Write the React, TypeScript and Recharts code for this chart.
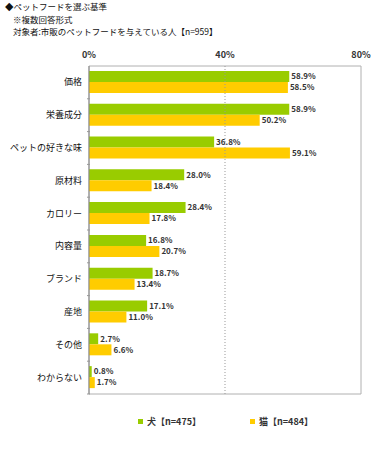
import { BarChart, Bar, XAxis, YAxis, LabelList, ReferenceLine, ReferenceArea } from 'recharts';

const categories = ['価格', '栄養成分', 'ペットの好きな味', '原材料', 'カロリー', '内容量', 'ブランド', '産地', 'その他', 'わからない'];
const dogValues = [58.9, 58.9, 36.8, 28.0, 28.4, 16.8, 18.7, 17.1, 2.7, 0.8];
const catValues = [58.5, 50.2, 59.1, 18.4, 17.8, 20.7, 13.4, 11.0, 6.6, 1.7];
const xTicks = [0, 40, 80];
const seriesNames = ['犬【n=475】', '猫【n=484】'];
const seriesColors = ['#99cc00', '#ffcc00'];
const titleLines = ['◆ペットフードを選ぶ基準', '※複数回答形式', '対象者:市販のペットフードを与えている人【n=959】'];

const FONT = '"Noto Sans CJK JP", "Noto Sans", sans-serif';
const PLOT_TOP = 66;
const PLOT_BOTTOM = 394;
const BAND = (PLOT_BOTTOM - PLOT_TOP) / categories.length;

const chartData = categories.map((name, i) => ({
  name,
  dog: dogValues[i],
  cat: catValues[i],
}));

function CategoryTick(props: any) {
  const { x, y, payload } = props;
  return (
    <g>
      <text x={x} y={y} dy={3} textAnchor="end" fontSize={9} fill="#111" fontFamily={FONT}>
        {payload.value}
      </text>
      <line x1={x + 5} x2={x + 8} y1={y + BAND / 2} y2={y + BAND / 2} stroke="#999" />
    </g>
  );
}

export default function App() {
  return (
    <div style={{ position: 'absolute', left: 0, top: 0, width: 373, height: 450, background: '#fff', fontFamily: FONT }}>
      <div style={{ position: 'absolute', left: 5, top: 0, fontSize: 8.5, lineHeight: '12.5px', color: '#111' }}>
        {titleLines.map((t, i) => (
          <div key={t} style={{ paddingLeft: i === 0 ? 0 : 8 }}>{t}</div>
        ))}
      </div>
      <BarChart
        width={373}
        height={450}
        data={chartData}
        layout="vertical"
        margin={{ top: PLOT_TOP - 30, right: 12, bottom: 450 - PLOT_BOTTOM, left: 0 }}
        barCategoryGap="15%"
        barGap={0}
      >
        <XAxis
          type="number"
          orientation="top"
          domain={[0, 80]}
          ticks={xTicks}
          tickFormatter={(v) => `${v}%`}
          axisLine={false}
          tickLine={false}
          height={30}
          tick={{ fontSize: 9, fill: '#333', fontFamily: FONT, fontWeight: 'bold' }}
        />
        <YAxis
          type="category"
          dataKey="name"
          width={89}
          axisLine={{ stroke: '#888' }}
          tickLine={false}
          tickMargin={1}
          interval={0}
          tick={<CategoryTick />}
        />
        <ReferenceArea x1={0} x2={80} fill="none" stroke="#b0b0b0" strokeWidth={1} />
        <ReferenceLine x={40} stroke="#999" strokeDasharray="1 2" />
        <Bar dataKey="dog" name={seriesNames[0]} fill={seriesColors[0]} isAnimationActive={false}>
          <LabelList
            dataKey="dog"
            position="right"
            offset={2}
            formatter={(v: any) => `${Number(v).toFixed(1)}%`}
            style={{ fontSize: 8, fill: '#333', fontWeight: 'bold', fontFamily: FONT }}
          />
        </Bar>
        <Bar dataKey="cat" name={seriesNames[1]} fill={seriesColors[1]} isAnimationActive={false}>
          <LabelList
            dataKey="cat"
            position="right"
            offset={2}
            formatter={(v: any) => `${Number(v).toFixed(1)}%`}
            style={{ fontSize: 8, fill: '#333', fontWeight: 'bold', fontFamily: FONT }}
          />
        </Bar>
      </BarChart>
      <div style={{ position: 'absolute', left: 138, top: 415, display: 'flex', fontSize: 9, color: '#333', fontWeight: 'bold' }}>
        {seriesNames.map((n, i) => (
          <div key={n} style={{ width: 112, display: 'flex', alignItems: 'center' }}>
            <span style={{ display: 'inline-block', width: 5, height: 5, background: seriesColors[i], marginRight: 4 }} />
            <span>{n}</span>
          </div>
        ))}
      </div>
    </div>
  );
}
